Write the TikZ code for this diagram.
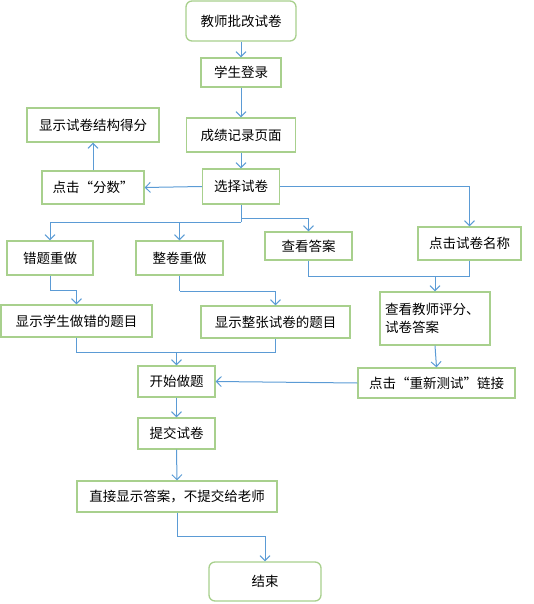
\documentclass[tikz,border=0pt]{standalone}
\usepackage{fontspec}
\setmainfont{Noto Sans CJK SC}
\usetikzlibrary{arrows.meta}
\definecolor{boxgreen}{HTML}{A8D08D}
\definecolor{linkblue}{HTML}{5B9BD5}
\tikzset{
  box/.style={draw=boxgreen, line width=1.3pt, fill=white, inner sep=0pt, font=\fontsize{13.5}{18}\selectfont, text=black},
  rbox/.style={box, rounded corners=6pt},
  conn/.style={draw=linkblue, line width=1pt},
  arr/.style={conn, -{Straight Barb[length=5pt, width=10pt, line width=1pt]}},
}
\begin{document}
\begin{tikzpicture}[x=1pt, y=-1pt]
\useasboundingbox (0,0) rectangle (533,604);
\node[rbox, minimum width=110pt, minimum height=40pt] (tc) at (241,21) {教师批改试卷};
\node[box, minimum width=80pt, minimum height=29pt] (xs) at (241,72.5) {学生登录};
\node[box, minimum width=109pt, minimum height=34pt] (cj) at (241,135) {成绩记录页面};
\node[box, minimum width=132pt, minimum height=34pt] (xsjg) at (93,125) {显示试卷结构得分};
\node[box, minimum width=102pt, minimum height=33pt] (fs) at (93,187.5) {点击“分数”};
\node[box, minimum width=77pt, minimum height=35pt] (xz) at (241,186.5) {选择试卷};
\node[box, minimum width=86pt, minimum height=34pt] (ct) at (50,258) {错题重做};
\node[box, minimum width=87pt, minimum height=34pt] (zj) at (179.5,258) {整卷重做};
\node[box, minimum width=87pt, minimum height=28pt] (ckda) at (308.5,246) {查看答案};
\node[box, minimum width=103pt, minimum height=33pt] (djmc) at (469.5,243.5) {点击试卷名称};
\node[box, minimum width=151pt, minimum height=32pt] (xscw) at (76.5,321) {显示学生做错的题目};
\node[box, minimum width=149pt, minimum height=32pt] (xszz) at (275.5,322) {显示整张试卷的题目};
\node[box, minimum width=110pt, minimum height=53pt, align=left, text width=100pt, inner xsep=5pt] (ckjs) at (435,318.5) {查看教师评分、\\试卷答案};
\node[box, minimum width=77pt, minimum height=31pt] (ks) at (176.5,381.5) {开始做题};
\node[box, minimum width=157pt, minimum height=30pt] (cxcs) at (436.5,383) {点击“重新测试”链接};
\node[box, minimum width=77pt, minimum height=31pt] (tj) at (176.5,433.5) {提交试卷};
\node[box, minimum width=200pt, minimum height=31pt] (zjxs) at (177,496.5) {直接显示答案，不提交给老师};
\node[rbox, minimum width=112pt, minimum height=39pt] (js) at (265,581.5) {结束};
% coordinates
\coordinate (s1) at (241,222);
\coordinate (s2) at (241,218);
\coordinate (m1) at (435,276);
\coordinate (j1) at (50,290);
\coordinate (j2) at (179.5,291);
\coordinate (m2) at (176.5,352);
\coordinate (j3) at (177,536);
% connectors
\draw[arr] (tc.south) -- (xs.north);
\draw[arr] (xs.south) -- (cj.north);
\draw[arr] (cj.south) -- (xz.north);
\draw[arr] (xz.west) -- (fs.east);
\draw[arr] (fs.north) -- (xsjg.south);
\draw[arr] (xz.east) -| (djmc.north);
\draw[conn] (xz.south) -- (s1);
\draw[arr] (s1) -| (ct.north);
\draw[arr] (s1) -| (zj.north);
\draw[arr] (s2) -| (ckda.north);
\draw[conn] (ckda.south) |- (m1);
\draw[conn] (djmc.south) |- (m1);
\draw[arr] (m1) -- (ckjs.north);
\draw[conn] (ct.south) -- (j1);
\draw[arr] (j1) -| (xscw.north);
\draw[conn] (zj.south) -- (j2);
\draw[arr] (j2) -| (xszz.north);
\draw[conn] (xscw.south) |- (m2);
\draw[conn] (xszz.south) |- (m2);
\draw[arr] (m2) -- (ks.north);
\draw[arr] (ckjs.south) -- (cxcs.north);
\draw[arr] (cxcs.west) -- (ks.east);
\draw[arr] (ks.south) -- (tj.north);
\draw[arr] (tj.south) -- (zjxs.north);
\draw[conn] (zjxs.south) -- (j3);
\draw[arr] (j3) -| (js.north);
\end{tikzpicture}
\end{document}
